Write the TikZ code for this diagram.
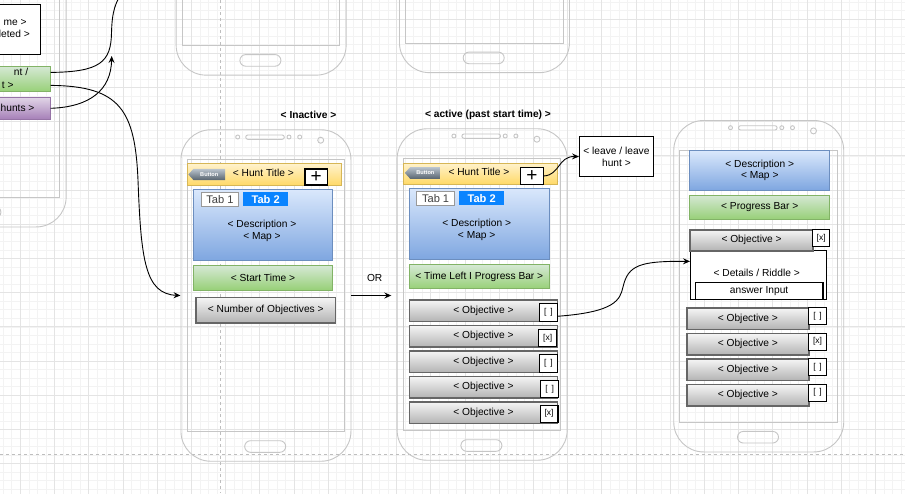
\documentclass[tikz,border=0pt]{standalone}
\usepackage{fontspec}
\setmainfont{Liberation Sans}
\usetikzlibrary{calc,arrows.meta,shapes.symbols}

\definecolor{phonegray}{RGB}{198,198,198}
\definecolor{gridminor}{RGB}{243,243,243}
\definecolor{gridmajor}{RGB}{228,228,228}
\definecolor{pagebreak}{RGB}{190,190,190}
\definecolor{ytop}{HTML}{FFF2CC}
\definecolor{ybot}{HTML}{FFD966}
\definecolor{ystroke}{HTML}{D6B656}
\definecolor{btop}{HTML}{DAE8FC}
\definecolor{bbot}{HTML}{7EA6E0}
\definecolor{bstroke}{HTML}{6C8EBF}
\definecolor{gtop}{HTML}{D5E8D4}
\definecolor{gbot}{HTML}{97D077}
\definecolor{gstroke}{HTML}{82B366}
\definecolor{ptop}{HTML}{E1D5E7}
\definecolor{pbot}{HTML}{A680B8}
\definecolor{pstroke}{HTML}{9673A6}
\definecolor{rtop}{HTML}{F5F5F5}
\definecolor{rbot}{HTML}{B3B3B3}
\definecolor{rstroke}{HTML}{666666}
\definecolor{tabblue}{HTML}{0A84FF}
\definecolor{btntop}{HTML}{BAC4CE}
\definecolor{btnbot}{HTML}{58646F}

\tikzset{
  every node/.style={inner sep=0pt, font=\fontsize{10.2}{11.7}\selectfont},
  phonebody/.style={draw=phonegray, line width=0.9pt, rounded corners=30pt,
    minimum width=170pt, minimum height=331.5pt, anchor=north west},
  phoneline/.style={draw=phonegray, line width=0.9pt},
  bar/.style={anchor=north west, line width=0.9pt},
  ybar/.style={bar, draw=ystroke, top color=ytop, bottom color=ybot},
  bbar/.style={bar, draw=bstroke, top color=btop, bottom color=bbot},
  gbar/.style={bar, draw=gstroke, top color=gtop, bottom color=gbot},
  pbar/.style={bar, draw=pstroke, top color=ptop, bottom color=pbot},
  orow/.style={bar, draw=rstroke, line width=1.5pt, top color=rtop, bottom color=rbot},
  wbox/.style={bar, draw=black, fill=white, line width=1.2pt},
  chk/.style={wbox, line width=1.1pt, font=\fontsize{8.5}{10}\selectfont},
  plusbox/.style={wbox, font=\fontsize{19}{19}\selectfont},
  tabone/.style={bar, draw=black!40, fill=white, text=black!75,
    font=\fontsize{11.1}{12}\selectfont},
  tabtwo/.style={bar, fill=tabblue, text=white, font=\fontsize{11.1}{12}\selectfont\bfseries},
  btn/.style={anchor=north west, shape=signal, signal to=west, signal pointer angle=95,
    top color=btntop, bottom color=btnbot, text=white,
    font=\fontsize{5.6}{6}\selectfont\bfseries},
  statelabel/.style={font=\fontsize{10.2}{11.7}\selectfont\bfseries},
  conn/.style={draw, line width=0.9pt, -{Stealth[length=7pt,width=6pt,inset=2.5pt]}},
  line/.style={draw, line width=0.9pt},
}

% phone outline: name, left, top
\newcommand{\phone}[3]{%
  \node[phonebody] (#1) at (#2,#3) {};
  \draw[phoneline] ($(#1.north west)+(6.5,30)$) rectangle ++(157.7,272.4);
  \draw[phoneline, rounded corners=2.1pt] ($(#1.north west)+(65.2,5.7)$) rectangle ++(38.6,4.3);
  \draw[phoneline] ($(#1.north west)+(57.2,7.7)$) circle (2pt);
  \draw[phoneline] ($(#1.north west)+(108.5,7.7)$) circle (2pt);
  \draw[phoneline] ($(#1.north west)+(119.2,7.7)$) circle (2pt);
  \draw[phoneline] ($(#1.north west)+(140.2,10.9)$) circle (3pt);
  \draw[phoneline, rounded corners=5.8pt] ($(#1.north west)+(64.2,311.4)$) rectangle ++(41,11.6);
}

\begin{document}
\begin{tikzpicture}[x=1pt,y=-1pt]
\useasboundingbox (0,0) rectangle (905,493);
\clip (0,0) rectangle (905,493);
\fill[white] (0,0) rectangle (905,493);

% grid
\draw[gridminor, line width=0.6pt, xshift=3.2pt, yshift=-1.9pt] (-20pt,-530pt) grid[step=8.55pt] (930pt,20pt);
\draw[gridmajor, line width=0.8pt, xshift=20.3pt, yshift=-19pt] (-40pt,-550pt) grid[step=34.2pt] (950pt,40pt);
\draw[pagebreak, line width=0.8pt, dash pattern=on 3pt off 3pt] (220.3,0) -- (220.3,493);
\draw[pagebreak, line width=0.8pt, dash pattern=on 3pt off 3pt] (0,454) -- (905,454);

% phones
\phone{ph0}{-104.3}{-105}
\phone{pha}{175.7}{-256.8}
\phone{phb}{399}{-259.3}
\phone{ph1}{180.5}{129.3}
\phone{ph2}{396.7}{128.3}
\phone{ph3}{673.3}{120}

% left phone (cut off)
\node[wbox, minimum width=130pt, minimum height=50.3pt] (lst) at (-90.5,3.7) {};
\node[anchor=east] (lst-a) at (26.7,22.5) {me >};
\node[anchor=east] (lst-b) at (30,34.3) {leted >};
\node[gbar, minimum width=140pt, minimum height=25.3pt] (lg) at (-90.3,66) {};
\node[anchor=east] (lg-a) at (28.3,72.3) {nt /};
\node[anchor=east] (lg-b) at (13.7,85) {t >};
\node[pbar, minimum width=140pt, minimum height=21.7pt] (lp) at (-90.3,97) {};
\node[anchor=west] (lp-a) at (0.5,107.7) {hunts >};

% inactive
\node[statelabel] (lbl1) at (308.5,115.3) {< Inactive >};
\node[ybar, minimum width=154pt, minimum height=22pt] (tb1) at (187.3,163.3) {};
\node[btn, minimum width=36.7pt, minimum height=11.3pt] (bt1) at (193.3,168.7) {Button};
\node (ht1) at (263.3,173.3) {< Hunt Title >};
\node[plusbox, minimum width=22.4pt, minimum height=16pt] (pl1) at (304.3,168.3) {+};
\node[bbar, minimum width=139.6pt, minimum height=71.6pt] (bb1) at (192.7,188.7) {};
\node[tabone, minimum width=37.6pt, minimum height=14.3pt] (ta1) at (200.7,191.7) {Tab 1};
\node[tabtwo, minimum width=45pt, minimum height=14.3pt] (tb21) at (242.7,191.7) {Tab 2};
\node[align=center] (ds1) at (262,231) {< Description >\\< Map >};
\node[gbar, minimum width=139.6pt, minimum height=24.4pt] (gb1) at (192.7,265.3) {< Start Time >};
\node[orow, minimum width=139.4pt, minimum height=25.3pt] (no1) at (195.3,296.7) {< Number of Objectives >};

% active
\node[statelabel] (lbl2) at (488,115.3) {< active (past start time) >};
\node[ybar, minimum width=153.4pt, minimum height=21.3pt] (tb2) at (403.3,162.7) {};
\node[btn, minimum width=35.7pt, minimum height=11.7pt] (bt2) at (410,167) {Button};
\node (ht2) at (479,172.3) {< Hunt Title >};
\node[plusbox, minimum width=22.7pt, minimum height=17.3pt] (pl2) at (520,166.7) {+};
\node[bbar, minimum width=139.7pt, minimum height=71.6pt] (bb2) at (409,187.7) {};
\node[tabone, minimum width=38.3pt, minimum height=14.3pt] (ta2) at (416,190.7) {Tab 1};
\node[tabtwo, minimum width=45pt, minimum height=14.3pt] (tb22) at (458.7,190.7) {Tab 2};
\node[align=center] (ds2) at (476.7,230) {< Description >\\< Map >};
\node[gbar, minimum width=139.7pt, minimum height=24pt] (gb2) at (409,264.3) {< Time Left I Progress Bar >};
\node[orow, minimum width=148pt, minimum height=21.4pt] (o2-1) at (408.7,299.3) {< Objective >};
\node[chk, minimum width=17.7pt, minimum height=17.4pt] (c2-1) at (539,303.3) {[\ \,]};
\node[orow, minimum width=148pt, minimum height=21.4pt] (o2-2) at (408.7,324.8) {< Objective >};
\node[chk, minimum width=17.7pt, minimum height=17.4pt] (c2-2) at (538.3,328.8) {[x]};
\node[orow, minimum width=148pt, minimum height=21.4pt] (o2-3) at (408.7,350.3) {< Objective >};
\node[chk, minimum width=17.7pt, minimum height=17.4pt] (c2-3) at (539,354.3) {[\ \,]};
\node[orow, minimum width=148pt, minimum height=21.4pt] (o2-4) at (408.7,375.8) {< Objective >};
\node[chk, minimum width=17.7pt, minimum height=17.4pt] (c2-4) at (540.3,379.8) {[\ \,]};
\node[orow, minimum width=148pt, minimum height=21.4pt] (o2-5) at (408.7,401.3) {< Objective >};
\node[chk, minimum width=17.7pt, minimum height=17.4pt] (c2-5) at (539.7,404.5) {[x]};
\node[wbox, minimum width=73.7pt, minimum height=40pt, align=center] (lv) at (579,136) {< leave / leave\\hunt >};

% objective opened
\node[bbar, minimum width=140pt, minimum height=40pt, align=center] (bb3) at (689.3,150) {< Description >\\< Map >};
\node[gbar, minimum width=140pt, minimum height=24.3pt] (gb3) at (689.3,194.7) {< Progress Bar >};
\node[wbox, minimum width=136pt, minimum height=48.7pt] (det) at (690,250) {};
\node (dt) at (756.7,272.7) {< Details / Riddle >};
\node[wbox, minimum width=127.6pt, minimum height=17pt] (ans) at (694.7,281.7) {answer Input};
\node[orow, minimum width=123pt, minimum height=21pt] (o3-0) at (689.3,229) {< Objective >};
\node[chk, minimum width=16.7pt, minimum height=17pt] (c3-0) at (812.3,229) {[x]};
\node[orow, minimum width=122.3pt, minimum height=21.4pt] (o3-1) at (686,307.3) {< Objective >};
\node[chk, minimum width=17.4pt, minimum height=17pt] (c3-1) at (808.3,307.3) {[\ \,]};
\node[orow, minimum width=122.3pt, minimum height=21.4pt] (o3-2) at (686,332.7) {< Objective >};
\node[chk, minimum width=17.4pt, minimum height=17pt] (c3-2) at (808.3,332.7) {[x]};
\node[orow, minimum width=122.3pt, minimum height=21.4pt] (o3-3) at (686,358.3) {< Objective >};
\node[chk, minimum width=17.4pt, minimum height=17pt] (c3-3) at (808.3,358.3) {[\ \,]};
\node[orow, minimum width=122.3pt, minimum height=21.4pt] (o3-4) at (686,383.7) {< Objective >};
\node[chk, minimum width=17.4pt, minimum height=17pt] (c3-4) at (808.3,383.7) {[\ \,]};

% connectors
\coordinate (offtop) at (124,-10);
\coordinate (uptip) at (111.7,56);
\draw[line] ([yshift=6.7pt]lg.east) .. controls (100,72) and (111,62) .. (111.5,33) .. controls (112,12) and (115,2) .. (offtop);
\draw[conn] (lp.east) .. controls (90,107) and (111,90) .. (uptip);
\draw[conn] ([yshift=-6.3pt]lg.east) .. controls (120,86) and (135,110) .. (138,180) .. controls (141,260) and (145,294) .. (ph1.west);
\node (or) at (374.7,278.3) {OR};
\draw[conn, shorten >=5.4pt] (ph1.east) -- (ph1.east -| ph2.west);
\draw[conn] (pl2.east) .. controls (560,175) and (558,156) .. (lv.west);
\draw[conn] ([yshift=-3.7pt]c2-1.east) .. controls (615,312) and (620,300) .. (623,287) .. controls (628,265) and (640,261) .. ([yshift=13.6pt]det.west);
\end{tikzpicture}
\end{document}
